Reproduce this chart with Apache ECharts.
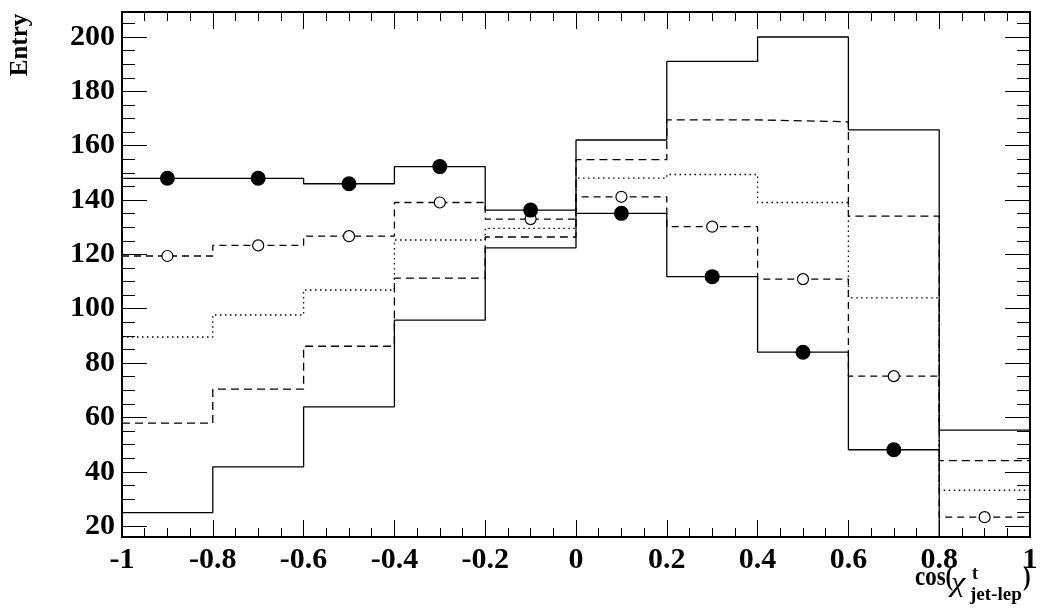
<!DOCTYPE html>
<html>
<head>
<meta charset="utf-8">
<script src="https://cdn.jsdelivr.net/npm/echarts@6/dist/echarts.min.js"></script>
<style>
html,body{margin:0;padding:0;background:#fff;}
#chart{width:1054px;height:614px;}
</style>
</head>
<body>
<div id="chart"></div>
<script>
// bin edges of cos(chi) histogram
const binEdges = [-1, -0.8, -0.6, -0.4, -0.2, 0, 0.2, 0.4, 0.6, 0.8, 1];
// data (filled circles + solid step)
const dataFilled = [148, 148, 146, 152.3, 136.3, 135.1, 111.8, 84, 48.1, 8];
// solid peaked histogram
const histSolid = [25, 41.8, 63.9, 95.8, 122.4, 162.1, 191, 200, 165.8, 55.3];
// long dashed histogram
const histDashed = [57.9, 70.4, 86.2, 111.3, 126.4, 154.9, 169.5, 168.8, 134.1, 44.1];
// dotted histogram
const histDotted = [89.6, 97.7, 106.9, 125.3, 129.6, 148.1, 149.4, 139.1, 104, 33.2];
// dashed histogram with open circles
const histOpen = [119.4, 123.3, 126.7, 139.1, 133, 141.2, 130.2, 110.9, 75.2, 23.3];
// tick labels
const yTickValues = [20, 40, 60, 80, 100, 120, 140, 160, 180, 200];
const xTickValues = [-1, -0.8, -0.6, -0.4, -0.2, 0, 0.2, 0.4, 0.6, 0.8, 1];

const yMin = 16, yMax = 209.2;
const yMinor = [];
for (let v = 20; v <= 205; v += 5) yMinor.push(v);

function stepData(vals) {
  const pts = vals.map((v, i) => [binEdges[i], v]);
  pts.push([binEdges[binEdges.length - 1], vals[vals.length - 1]]);
  return pts;
}
function centerData(vals) {
  return vals.map((v, i) => [(binEdges[i] + binEdges[i + 1]) / 2, v]);
}

const FONT = "'Liberation Serif', 'Times New Roman', serif";
const lineW = 1.3;

function yAx(pos, len, vals, labels) {
  return {
    type: 'value', position: pos, min: yMin, max: yMax,
    axisLine: { show: true, onZero: false, lineStyle: { color: '#000', width: 2 } },
    axisTick: { show: true, inside: true, length: len, customValues: vals, lineStyle: { color: '#000', width: 1 } },
    axisLabel: labels ? {
      show: true, customValues: yTickValues, margin: 7,
      fontFamily: FONT, fontWeight: 'bold', fontSize: 30, color: '#000'
    } : { show: false },
    splitLine: { show: false }
  };
}
function xAx(pos, labels) {
  return {
    type: 'value', position: pos, min: -1, max: 1, interval: 0.2,
    axisLine: { show: true, onZero: false, lineStyle: { color: '#000', width: 2 } },
    axisTick: { show: true, inside: true, length: 17, lineStyle: { color: '#000', width: 1 } },
    minorTick: { show: true, splitNumber: 4, length: 9, lineStyle: { color: '#000', width: 1 } },
    axisLabel: labels ? {
      show: true, margin: 8, fontFamily: FONT, fontWeight: 'bold', fontSize: 30, color: '#000',
      customValues: xTickValues,
      formatter: v => String(Math.round(v * 10) / 10)
    } : { show: false },
    splitLine: { show: false }
  };
}

const chart = echarts.init(document.getElementById('chart'));
chart.setOption({
  animation: false,
  backgroundColor: '#fff',
  grid: { left: 122, right: 24, top: 12, bottom: 77, containLabel: false },
  xAxis: [xAx('bottom', true), xAx('top', false)],
  yAxis: [
    yAx('left', 25, yTickValues, true),
    yAx('left', 13, yMinor, false),
    yAx('right', 25, yTickValues, false),
    yAx('right', 13, yMinor, false)
  ],
  series: [
    { type: 'line', step: 'end', data: stepData(histSolid), symbol: 'none', clip: true,
      lineStyle: { color: '#000', width: lineW, type: 'solid' } },
    { type: 'line', step: 'end', data: stepData(histDashed), symbol: 'none', clip: true,
      lineStyle: { color: '#000', width: lineW, type: [8, 5] } },
    { type: 'line', step: 'end', data: stepData(histDotted), symbol: 'none', clip: true,
      lineStyle: { color: '#000', width: lineW, type: [1.5, 3.5] } },
    { type: 'line', step: 'end', data: stepData(histOpen), symbol: 'none', clip: true,
      lineStyle: { color: '#000', width: lineW, type: [7, 5] } },
    { type: 'line', step: 'end', data: stepData(dataFilled), symbol: 'none', clip: true,
      lineStyle: { color: '#000', width: lineW, type: 'solid' } },
    { type: 'scatter', data: centerData(histOpen), symbol: 'circle', symbolSize: 11, clip: true,
      itemStyle: { color: '#fff', borderColor: '#000', borderWidth: 1.2, opacity: 1 }, z: 5 },
    { type: 'scatter', data: centerData(dataFilled), symbol: 'circle', symbolSize: 15, clip: true,
      itemStyle: { color: '#000', opacity: 1 }, z: 6 }
  ],
  graphic: [
    { type: 'text', x: 21, y: 45, rotation: Math.PI / 2,
      style: { text: 'Entry', fontFamily: FONT, fontWeight: 'bold', fontSize: 25, fill: '#000',
        align: 'center', verticalAlign: 'middle' } },
    { type: 'text', x: 915, y: 578, scaleX: 0.85,
      style: { text: 'cos(', fontFamily: FONT, fontWeight: 'bold', fontSize: 27, fill: '#000',
        align: 'left', verticalAlign: 'middle' } },
    { type: 'text', x: 951, y: 584, scaleX: 1.15,
      style: { text: 'χ', fontFamily: FONT, fontStyle: 'italic', fontSize: 28, fill: '#000',
        align: 'left', verticalAlign: 'middle' } },
    { type: 'text', x: 972, y: 574,
      style: { text: 't', fontFamily: FONT, fontWeight: 'bold', fontSize: 18, fill: '#000',
        align: 'left', verticalAlign: 'middle' } },
    { type: 'text', x: 970, y: 595,
      style: { text: 'jet-lep', fontFamily: FONT, fontWeight: 'bold', fontSize: 19, fill: '#000',
        align: 'left', verticalAlign: 'middle' } },
    { type: 'text', x: 1023, y: 578, scaleX: 0.85,
      style: { text: ')', fontFamily: FONT, fontWeight: 'bold', fontSize: 27, fill: '#000',
        align: 'left', verticalAlign: 'middle' } }
  ]
});
</script>
</body>
</html>
